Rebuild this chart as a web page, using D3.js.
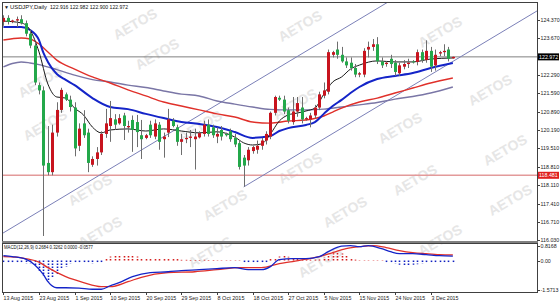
<!DOCTYPE html>
<html>
<head>
<meta charset="utf-8">
<script src="https://cdn.jsdelivr.net/npm/d3@7"></script>
<style>
  body { margin: 0; background: #fff; }
  text { font-family: "Liberation Sans", Arial, sans-serif; }
</style>
</head>
<body>
<svg id="chart" width="560" height="304"></svg>
<script>
// USDJPY daily bars, 13 Aug 2015 - 9 Dec 2015 (broker with Sunday bars)
const opens = [124.30,124.45,124.30,124.35,124.40,124.25,123.85,123.40,121.90,121.70,118.95,118.60,120.10,120.96,121.55,121.35,121.05,119.60,120.45,120.10,118.88,119.10,119.35,120.05,120.35,120.60,120.45,120.75,120.30,120.58,120.50,120.00,119.90,120.40,119.95,120.40,119.85,120.10,120.55,120.30,119.75,119.85,119.90,119.85,119.92,120.05,120.40,120.30,119.95,120.20,120.05,120.15,119.90,119.70,119.15,119.05,119.40,119.45,119.60,119.80,119.95,120.85,121.42,121.35,120.95,120.50,120.90,121.05,120.60,120.60,120.75,121.05,121.50,121.65,123.05,123.25,123.05,122.80,122.75,122.55,122.30,122.30,123.25,123.35,123.45,122.80,122.70,122.90,122.75,122.35,122.60,122.70,122.80,122.78,123.15,122.85,123.20,122.65,123.10,123.15,123.25,122.916];
const highs = [124.55,124.55,124.38,124.50,124.55,124.35,124.00,123.55,122.00,121.85,120.35,120.40,121.25,121.80,121.62,121.50,121.25,120.45,120.95,120.25,119.20,119.55,120.15,121.00,121.30,120.80,120.80,120.85,120.55,120.75,120.77,120.58,120.05,120.55,120.60,120.50,120.10,121.00,120.65,120.40,120.05,120.10,120.20,120.25,120.15,120.55,120.60,120.40,120.30,120.35,120.10,120.25,120.05,119.80,119.25,119.55,119.60,119.80,119.90,120.15,120.90,121.50,121.50,121.50,121.05,121.45,121.45,121.45,120.70,120.85,121.15,121.65,122.00,123.25,123.20,123.55,123.35,122.95,122.95,122.70,122.40,123.30,123.55,123.65,123.72,122.95,122.80,123.05,122.85,122.75,122.85,122.90,122.85,123.25,123.25,123.60,123.35,123.25,123.20,123.45,123.35,122.982];
const lows = [124.15,124.20,124.25,124.10,124.20,123.75,123.30,121.90,121.55,116.18,118.48,118.48,119.95,120.85,121.30,120.90,119.20,119.40,119.90,118.60,118.80,118.85,119.25,119.90,119.75,120.20,120.40,119.82,120.10,119.37,119.55,119.10,119.85,119.90,119.85,119.45,119.15,119.93,120.30,119.60,119.25,119.70,119.55,118.70,119.88,119.95,119.95,119.90,119.70,119.80,119.95,119.75,119.55,118.70,118.05,118.85,119.30,119.30,119.45,119.65,119.85,120.75,121.30,120.80,120.45,120.40,120.70,120.45,120.55,120.30,120.65,120.95,121.40,121.55,122.95,122.90,122.75,122.55,122.45,122.20,122.20,122.20,122.95,123.20,122.70,122.55,122.60,122.55,122.25,122.25,122.50,122.55,122.72,122.65,122.75,122.75,122.40,122.45,123.00,123.00,122.80,122.900];
const closes = [124.45,124.30,124.35,124.40,124.25,123.85,123.40,122.00,121.70,118.85,118.60,120.10,120.96,121.72,121.35,121.07,119.50,120.25,120.00,118.95,119.10,119.35,120.05,120.45,120.65,120.40,120.65,120.35,120.35,120.20,120.12,119.85,120.00,120.00,120.45,119.75,119.95,120.60,120.35,119.75,119.85,119.90,119.95,119.95,120.08,120.40,120.05,120.00,120.05,119.95,120.00,119.85,119.65,118.80,118.85,119.45,119.55,119.60,119.80,120.05,120.85,121.45,121.35,120.90,120.55,120.90,121.22,120.60,120.65,120.75,121.05,121.55,121.70,123.15,123.15,123.05,122.80,122.65,122.55,122.30,122.35,123.20,123.35,123.45,122.80,122.65,122.75,122.70,122.40,122.65,122.70,122.75,122.78,123.15,122.85,123.20,122.60,123.05,123.15,123.20,122.90,122.972];

// moving averages (bar index, price)
const maFastBars = [0,4,6,8,10,12,14,16,18,20,22,24,28,32,36,40,44,48,52,54,56,58,60,62,64,66,68,70,72,74,76,78,80,84,88,92,96,101];
const maFast = [124.33,124.26,123.99,123.16,121.94,121.45,121.41,121.03,120.77,120.31,120.09,120.20,120.24,120.16,120.24,120.16,120.09,120.13,119.93,119.71,119.63,119.67,120.05,120.54,120.77,120.84,120.92,121.03,121.56,122.02,122.21,122.51,122.66,122.82,122.78,122.78,122.89,122.93];
const maMidBars = [0,4,6,8,9,10,12,14,16,20,24,28,32,36,40,44,48,52,56,60,62,64,68,70,72,74,76,78,80,84,88,92,96,101];
const maMid = [124.10,124.10,123.99,123.61,123.12,122.78,122.32,122.10,121.90,121.41,121.07,120.99,120.81,120.65,120.50,120.43,120.31,120.12,119.90,119.97,120.16,120.27,120.39,120.50,120.81,121.11,121.34,121.60,121.83,122.13,122.25,122.36,122.55,122.74];
const maSlowBars = [0,4,6,8,10,12,16,20,24,28,32,36,40,44,48,52,56,60,64,68,72,74,76,80,84,88,92,96,101];
const maSlow = [123.61,123.69,123.65,123.46,123.16,122.85,122.51,122.21,121.98,121.72,121.49,121.26,121.11,120.96,120.81,120.69,120.50,120.46,120.54,120.58,120.73,120.88,121.03,121.26,121.41,121.60,121.79,121.98,122.17];
const maLongBars = [0,2,4,6,8,12,16,20,24,28,32,36,40,44,48,52,56,60,64,68,72,76,80,84,88,92,96,101];
const maLong = [122.59,122.72,122.78,122.74,122.68,122.49,122.28,122.11,122.02,121.90,121.81,121.68,121.56,121.49,121.30,121.18,121.07,120.98,120.96,120.96,120.99,121.07,121.15,121.24,121.37,121.47,121.60,121.83];

// channel lines and horizontal levels
const channelUpper = [[0, 116.30], [80, 124.40]];
const channelLower = [[54, 118.04], [102, 122.90]];
const levelPrice = 122.972;
const levelSupport = 118.481;

// MACD(12,26,9)
const macdBars = [0,2,5,7,9,10,12,14,17,20,22,24,26,29,33,37,40,44,48,52,55,58,60,62,65,68,71,73,76,78,80,82,85,87,89,92,95,98,101];
const macdMain = [0.29,0.24,0.10,-0.20,-0.74,-1.12,-1.45,-1.45,-1.47,-1.53,-1.53,-1.34,-1.17,-0.85,-0.63,-0.58,-0.52,-0.47,-0.41,-0.36,-0.47,-0.47,-0.30,0.08,0.13,0.13,0.24,0.51,0.81,0.84,0.78,0.84,0.67,0.51,0.40,0.40,0.35,0.29,0.27];
const signalBars = [0,3,5,8,10,14,18,22,24,28,31,37,43,48,53,58,62,65,68,71,74,77,80,83,86,89,92,95,98,101];
const macdSignal = [0.24,0.21,0.13,-0.06,-0.36,-0.85,-1.17,-1.39,-1.39,-1.12,-0.88,-0.63,-0.58,-0.47,-0.36,-0.36,-0.14,-0.03,0.10,0.24,0.46,0.67,0.78,0.84,0.73,0.57,0.46,0.40,0.35,0.33];
const macdHist = [-0.06,-0.08,-0.08,-0.10,-0.10,-0.12,-0.12,-0.20,-0.60,-0.78,-1.10,-0.92,-0.74,-0.41,-0.29,-0.12,-0.10,-0.08,-0.10,-0.10,-0.12,-0.10,-0.08,0.14,0.22,0.25,0.29,0.33,0.33,0.27,0.22,0.16,0.13,0.13,0.14,0.13,0.14,0.13,0.11,0.09,0.04,0.04,0.03,0.03,0.03,0.04,0.03,0.03,0.02,0.02,0.02,0.02,0.02,0.02,-0.05,-0.08,-0.08,-0.10,-0.08,-0.05,0.09,0.16,0.22,0.25,0.20,0.16,0.12,0.05,0.05,0.05,0.05,0.06,0.18,0.29,0.40,0.43,0.38,0.25,0.14,0.05,0.02,0.02,0.02,0.02,0.02,0.02,-0.05,-0.08,-0.12,-0.18,-0.20,-0.20,-0.18,-0.15,-0.12,-0.10,-0.10,-0.08,-0.08,-0.07,-0.06,-0.058];

// axis labels
const priceTicks = ["124.370","123.670","122.290","121.590","120.890","120.190","119.510","118.810","118.110","117.410","116.710","116.030"];
const macdTicks = ["0.8168","0.00","-1.5713"];
const dateBars = [0,8,16,24,32,40,48,56,64,72,80,88,96];
const dateLabels = ["13 Aug 2015","23 Aug 2015","1 Sep 2015","10 Sep 2015","20 Sep 2015","29 Sep 2015","8 Oct 2015","18 Oct 2015","27 Oct 2015","5 Nov 2015","15 Nov 2015","24 Nov 2015","3 Dec 2015"];
const watermarks = [[135,24],[300,26],[440,32],[157,54],[40,82],[490,90],[295,104],[200,126],[400,128],[45,125],[505,150],[300,168],[415,180],[90,190],[510,200],[225,205],[345,212],[100,232],[440,240],[210,252],[320,262]];

let svg = d3.select("#chart");
const plotL = 2, plotR = 537, plotT = 2, mainB = 241, paneT = 243, paneB = 292;

let x = d3.scaleLinear().domain([0, 101]).range([3.4, 452.85]);
let y = d3.scaleLinear().domain([116.71, 124.37]).range([222, 20]);
let ym = d3.scaleLinear().domain([-1.5713, 0.8168]).range([290, 246]);

svg.append("rect").attr("width", 560).attr("height", 304).attr("fill", "#fff");

// watermark
svg.append("g").selectAll("text")
    .data(watermarks)
    .enter().append("text")
    .attr("transform", d => `translate(${d[0]},${d[1]}) rotate(-30)`)
    .attr("text-anchor", "middle")
    .attr("dy", "0.35em")
    .style("font-size", "14px")
    .style("font-weight", "bold")
    .style("fill", "#e6e6e6")
    .text("AETOS");

let defs = svg.append("defs");
defs.append("clipPath").attr("id", "clipMain")
    .append("rect").attr("x", plotL).attr("y", plotT).attr("width", plotR - plotL).attr("height", mainB - plotT);
defs.append("clipPath").attr("id", "clipPane")
    .append("rect").attr("x", plotL).attr("y", paneT).attr("width", plotR - plotL).attr("height", paneB - paneT);

let main = svg.append("g").attr("clip-path", "url(#clipMain)");

// horizontal levels
main.append("line")
    .attr("x1", plotL).attr("x2", plotR)
    .attr("y1", y(levelPrice)).attr("y2", y(levelPrice))
    .style("stroke", "#808080").style("stroke-width", 1);
main.append("line")
    .attr("x1", plotL).attr("x2", plotR)
    .attr("y1", y(levelSupport)).attr("y2", y(levelSupport))
    .style("stroke", "#e39a9a").style("stroke-width", 1.5);

// channel (rays extended both ways, clipped)
function ray(pts) {
    let slope = (pts[1][1] - pts[0][1]) / (pts[1][0] - pts[0][0]);
    let b0 = pts === channelUpper ? -3 : pts[0][0], b1 = 125;
    return [x(b0), y(pts[0][1] + slope * (b0 - pts[0][0])), x(b1), y(pts[0][1] + slope * (b1 - pts[0][0]))];
}
[channelUpper, channelLower].forEach(pts => {
    let r = ray(pts);
    main.append("line")
        .attr("x1", r[0]).attr("y1", r[1]).attr("x2", r[2]).attr("y2", r[3])
        .style("stroke", "#7b80b8").style("stroke-width", 1);
});

// moving averages
let line = d3.line().x(d => x(d[0])).y(d => y(d[1])).curve(d3.curveMonotoneX);
const maSets = [
    [maLongBars, maLong, "#7a76a6", 1.4],
    [maSlowBars, maSlow, "#e0302a", 1.4],
    [maMidBars, maMid, "#1424c8", 2],
    [maFastBars, maFast, "#1a1a1a", 1]
];
maSets.forEach(s => {
    main.append("path")
        .datum(s[0].map((b, i) => [b, s[1][i]]))
        .attr("d", line)
        .style("fill", "none")
        .style("stroke", s[2])
        .style("stroke-width", s[3]);
});

// candles
let candles = main.append("g").selectAll("g")
    .data(opens.map((o, i) => ({ i: i, o: o, h: highs[i], l: lows[i], c: closes[i] })))
    .enter().append("g");
candles.append("line")
    .attr("x1", d => Math.round(x(d.i)) + 0.5).attr("x2", d => Math.round(x(d.i)) + 0.5)
    .attr("y1", d => y(d.h)).attr("y2", d => y(d.l))
    .style("stroke", "#6e6e6e").style("stroke-width", 1);
candles.append("rect")
    .attr("x", d => Math.round(x(d.i)) - 1)
    .attr("width", 3)
    .attr("y", d => y(Math.max(d.o, d.c)))
    .attr("height", d => Math.max(1, y(Math.min(d.o, d.c)) - y(Math.max(d.o, d.c))))
    .style("fill", d => d.c >= d.o ? "#c8141e" : "#23a84a");

// MACD pane
let pane = svg.append("g").attr("clip-path", "url(#clipPane)");
pane.append("g").selectAll("line")
    .data(macdHist)
    .enter().append("line")
    .attr("x1", (d, i) => Math.round(x(i)) + 0.5).attr("x2", (d, i) => Math.round(x(i)) + 0.5)
    .attr("y1", ym(0) - 0.5)
    .attr("y2", d => ym(d) + (d >= 0 ? -0.5 : 0.5))
    .style("stroke", d => d >= 0 ? "#d41a1a" : "#1020c0")
    .style("stroke-width", 1.6)
    .style("stroke-dasharray", "1.5,1.5");
let mline = d3.line().x(d => x(d[0])).y(d => ym(d[1])).curve(d3.curveMonotoneX);
pane.append("path")
    .datum(signalBars.map((b, i) => [b, macdSignal[i]]))
    .attr("d", mline)
    .style("fill", "none").style("stroke", "#e0302a").style("stroke-width", 1.3);
pane.append("path")
    .datum(macdBars.map((b, i) => [b, macdMain[i]]))
    .attr("d", mline)
    .style("fill", "none").style("stroke", "#1424c8").style("stroke-width", 1.3);

// frames
svg.append("rect")
    .attr("x", plotL + 0.5).attr("y", plotT + 0.5)
    .attr("width", plotR - plotL).attr("height", mainB - plotT)
    .style("fill", "none").style("stroke", "#404040");
svg.append("rect")
    .attr("x", plotL + 0.5).attr("y", paneT + 0.5)
    .attr("width", plotR - plotL).attr("height", paneB - paneT)
    .style("fill", "none").style("stroke", "#404040");
svg.append("line")
    .attr("x1", plotL).attr("x2", plotR + 1)
    .attr("y1", 242).attr("y2", 242)
    .style("stroke", "#808080").style("stroke-width", 2);

// axes
let axis = svg.append("g");
function smallText(g, px, py, str, width, color) {
    return g.append("text")
        .attr("x", px).attr("y", py).attr("dy", "0.35em")
        .attr("textLength", width).attr("lengthAdjust", "spacingAndGlyphs")
        .style("font-size", "6px").style("fill", color || "#222")
        .text(str);
}
function axisText(g, px, py, str, color) {
    return g.append("text")
        .attr("x", px).attr("y", py).attr("dy", "0.35em")
        .style("font-size", "5.3px").style("fill", color || "#222")
        .text(str);
}
priceTicks.forEach(t => {
    let py = Math.round(y(+t)) + 0.5;
    axis.append("line").attr("x1", plotR).attr("x2", plotR + 3).attr("y1", py).attr("y2", py).style("stroke", "#404040");
    axisText(axis, plotR + 3.5, py, t);
});
[[levelPrice, "#000000", "122.972"], [levelSupport, "#e0201e", "118.481"]].forEach(b => {
    let py = y(b[0]);
    axis.append("rect")
        .attr("x", plotR + 1).attr("y", py - 3.5)
        .attr("width", 21).attr("height", 7)
        .style("fill", b[1]);
    axisText(axis, plotR + 2, py, b[2], "#fff");
});
macdTicks.forEach(t => {
    let py = Math.round(ym(+t)) + 0.5;
    axis.append("line").attr("x1", plotR).attr("x2", plotR + 3).attr("y1", py).attr("y2", py).style("stroke", "#404040");
    axisText(axis, plotR + 3.5, py, t);
});

// date axis
dateBars.forEach((b, i) => {
    let px = Math.round(x(b)) + 0.5;
    axis.append("line").attr("x1", px).attr("x2", px).attr("y1", paneB).attr("y2", paneB + 3).style("stroke", "#404040");
    smallText(axis, px, 297.5, dateLabels[i], dateLabels[i].length * 2.7);
});

// headers
svg.append("text")
    .attr("x", 4).attr("y", 8.5)
    .style("font-size", "5px").style("fill", "#111")
    .text("\u25BC");
smallText(svg, 10, 6.5, "USDJPY,Daily", 37, "#111");
smallText(svg, 50, 6.5, "122.916 122.982 122.900 122.972", 78, "#111");
smallText(svg, 4, 247, "MACD(12,26,9) 0.2684 0.3262 0.0000 -0.0577", 89, "#111");
</script>
</body>
</html>
